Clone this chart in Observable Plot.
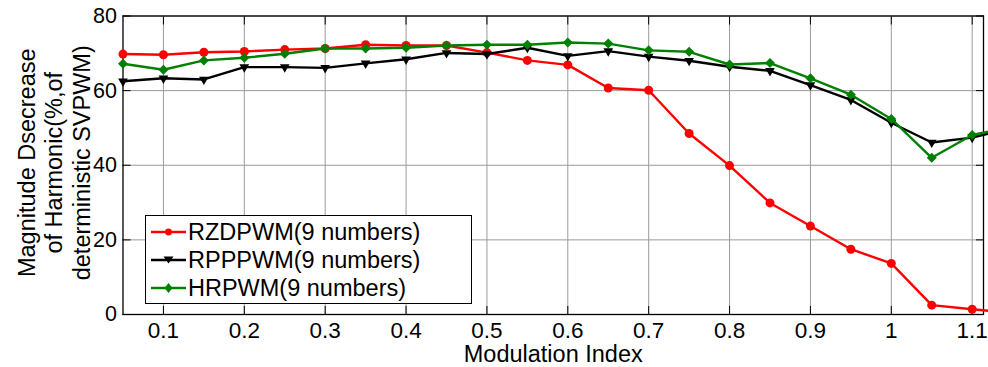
<!DOCTYPE html>
<html>
<head>
<meta charset="utf-8">
<script src="https://cdn.jsdelivr.net/npm/d3@7"></script>
<script src="https://cdn.jsdelivr.net/npm/@observablehq/plot@0.6"></script>
<style>
  html, body { margin: 0; padding: 0; background: #fff; }
  #wrap { position: relative; width: 988px; height: 367px; overflow: hidden; font-family: "Liberation Sans", Arial, sans-serif; }
  #legend { position: absolute; left: 145px; top: 215px; width: 325px; height: 87px; border: 1.3px solid #000; background: #fff; }
  .row { position: absolute; left: 0; height: 28px; display: flex; align-items: center; font-size: 23.5px; color: #000; white-space: nowrap; }
  .row svg { margin-left: 5px; margin-right: 2px; }
</style>
</head>
<body>
<div id="wrap"></div>
<script>
const modIndex = [0.05,0.1,0.15,0.2,0.25,0.3,0.35,0.4,0.45,0.5,0.55,0.6,0.65,0.7,0.75,0.8,0.85,0.9,0.95,1.0,1.05,1.1,1.15];
const rzdpwm = [69.8,69.6,70.3,70.5,71.0,71.3,72.3,72.1,72.1,70.2,68.1,66.9,60.7,60.1,48.5,39.9,29.9,23.7,17.5,13.7,2.5,1.4,0.4];
const rppwm  = [62.5,63.3,63.0,66.3,66.3,66.1,67.3,68.4,70.1,69.8,71.5,69.3,70.6,69.1,68.0,66.4,65.3,61.5,57.5,51.4,46.1,47.4,50.0];
const hrpwm  = [67.2,65.6,68.1,68.8,69.9,71.3,71.3,71.5,72.1,72.3,72.3,72.9,72.6,70.8,70.4,67.0,67.4,63.3,58.9,52.4,42.0,48.1,50.3];
const xTicks = [0.1,0.2,0.3,0.4,0.5,0.6,0.7,0.8,0.9,1.0,1.1];
const yTicks = [0,20,40,60,80];
const seriesNames = ["RZDPWM(9 numbers)","RPPPWM(9 numbers)","HRPWM(9 numbers)"];
const seriesColors = ["#ff0000","#000000","#008000"];
const xLabel = "Modulation Index";
const yLabel = "Magnitude Dsecrease\nof Harmonic(%,of\ndeterministic SVPWM)";

const mk = (vals) => modIndex.map((x, i) => ({x, y: vals[i]}));
const dRed = mk(rzdpwm), dBlack = mk(rppwm), dGreen = mk(hrpwm);

const font = "Liberation Sans, Arial, sans-serif";
const chart = Plot.plot({
  width: 988,
  height: 367,
  marginLeft: 122.5,
  marginRight: 5,
  marginTop: 15.5,
  marginBottom: 53,
  style: {fontFamily: font, fontSize: "22px", background: "white", overflow: "hidden"},
  x: {domain: [0.05, 1.114]},
  y: {domain: [0, 80]},
  marks: [
    Plot.gridX(xTicks, {stroke: "#9a9a9a", strokeOpacity: 1, strokeWidth: 1}),
    Plot.gridY(yTicks, {stroke: "#9a9a9a", strokeOpacity: 1, strokeWidth: 1}),
    Plot.axisX(xTicks, {anchor: "bottom", tickSize: -8, tickPadding: 16, fontSize: 22.5, tickFormat: d => d3.format("")(+d.toFixed(1)), label: null}),
    Plot.axisX(xTicks, {anchor: "top", tickSize: -8, tickFormat: () => "", label: null}),
    Plot.axisY(yTicks, {anchor: "left", tickSize: -8, tickPadding: 14, fontSize: 21.5, label: null}),
    Plot.axisY(yTicks, {anchor: "right", tickSize: -8, tickFormat: () => "", label: null}),
    Plot.frame({stroke: "#000", strokeWidth: 1.3}),
    Plot.line(dRed, {x: "x", y: "y", stroke: seriesColors[0], strokeWidth: 2.4}),
    Plot.dot(dRed, {x: "x", y: "y", fill: seriesColors[0], r: 4.5, symbol: "circle"}),
    Plot.line(dBlack, {x: "x", y: "y", stroke: seriesColors[1], strokeWidth: 2.4}),
    Plot.dot(dBlack, {x: "x", y: "y", fill: seriesColors[1], r: 3.6, symbol: "triangle", rotate: 180}),
    Plot.line(dGreen, {x: "x", y: "y", stroke: seriesColors[2], strokeWidth: 2.4}),
    Plot.dot(dGreen, {x: "x", y: "y", fill: seriesColors[2], r: 4.5, symbol: "diamond2"}),
    Plot.text([xLabel], {frameAnchor: "bottom", dy: 30.5, lineAnchor: "top", fontSize: 23.5, fill: "#000"}),
    Plot.text([yLabel], {frameAnchor: "left", textAnchor: "middle", dx: -69.5, dy: -2.5, rotate: -90, lineAnchor: "middle", lineHeight: 1.17, fontSize: 23.5, fill: "#000"})
  ]
});
const wrap = document.getElementById("wrap");
wrap.appendChild(chart);

// legend
const legend = document.createElement("div");
legend.id = "legend";
const rowTops = [2, 30, 58];
const symbols = ["circle", "tri", "diamond"];
seriesNames.forEach((name, i) => {
  const row = document.createElement("div");
  row.className = "row";
  row.style.top = rowTops[i] + "px";
  const c = seriesColors[i];
  let m;
  if (symbols[i] === "circle") m = `<circle cx="17.5" cy="10" r="3.4" fill="${c}"/>`;
  else if (symbols[i] === "tri") m = `<path d="M12.5,6.5 L22.5,6.5 L17.5,13.5 Z" fill="${c}"/>`;
  else m = `<path d="M17.5,5 L21.5,10 L17.5,15 L13.5,10 Z" fill="${c}"/>`;
  row.innerHTML = `<svg width="35" height="20"><line x1="0" y1="10" x2="35" y2="10" stroke="${c}" stroke-width="2.4"/>${m}</svg><span>${name}</span>`;
  legend.appendChild(row);
});
wrap.appendChild(legend);
</script>
</body>
</html>
